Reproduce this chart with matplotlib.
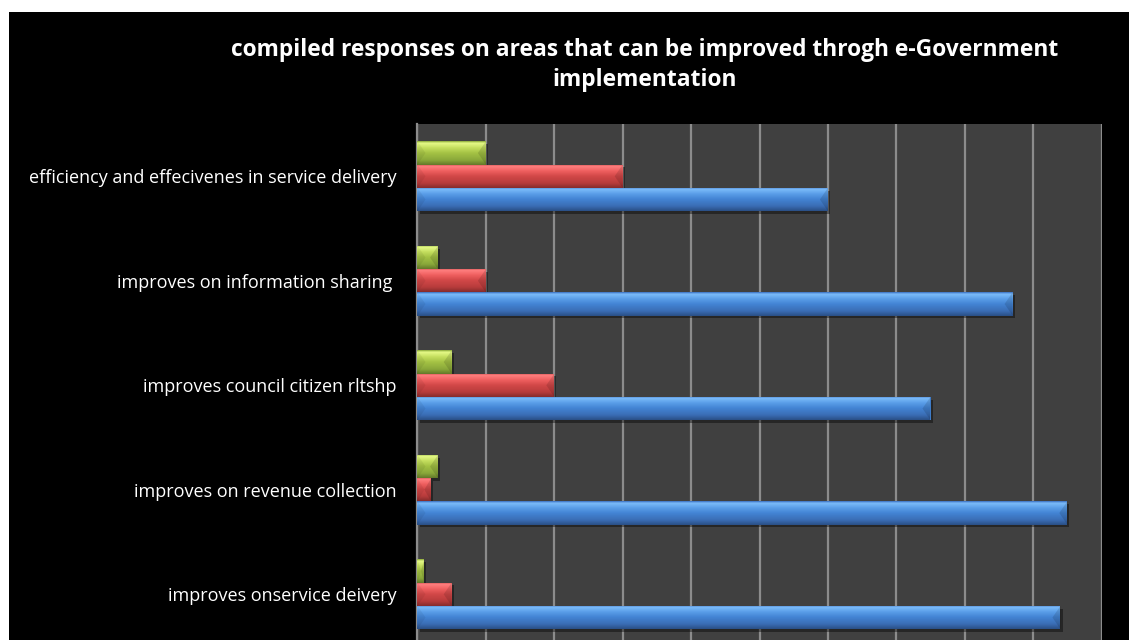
import numpy as np
import matplotlib
matplotlib.use("Agg")
import matplotlib.pyplot as plt
import matplotlib.patheffects as pe
from matplotlib.colors import LinearSegmentedColormap, to_rgb
from matplotlib.patches import Rectangle, Polygon

# ---- data (percent of responses) ----
categories = [
    "efficiency and effecivenes in service delivery",
    "improves on information sharing ",
    "improves council citizen rltshp",
    "improves on revenue collection",
    "improves onservice deivery",
]
series_blue = [60, 87, 75, 95, 94]
series_red = [30, 10, 20, 2, 5]
series_green = [10, 3, 5, 3, 1]
title_text = "compiled responses on areas that can be improved throgh e-Government\nimplementation"

W, H = 1129, 640
fig = plt.figure(figsize=(W / 100, H / 100), dpi=100, facecolor="white")
# black chart area (white margin top/left)
fig.patches.append(Rectangle((9 / W, 0), 1 - 9 / W, 1 - 12 / H, transform=fig.transFigure,
                             facecolor="black", edgecolor="none", zorder=-5))

left, right, top, bottom = 417.5, 1101.5, 124, 646.5
ax = fig.add_axes([left / W, 1 - bottom / H, (right - left) / W, (bottom - top) / H])
ax.set_zorder(2)
ax.set_facecolor("#404040")

fam = ["Open Sans", "DejaVu Sans"]
y = np.arange(len(categories))
h = 0.2225
px_x = 100 / (right - left)  # data units per pixel along x

palette = {
    "blue": ["#3a70c0", "#7cbcfa", "#5a9ee8", "#4384d4", "#3a6db4", "#2a4f86"],
    "red": ["#c04040", "#ff8080", "#f06060", "#d24848", "#b83c3c", "#862c2c"],
    "green": ["#8aa838", "#e6fa88", "#c4de5e", "#a4c244", "#8aa83a", "#64782a"],
}

def draw(vals, offset, key):
    bars = ax.barh(y + offset, vals, height=h, color=palette[key][3], edgecolor="none", zorder=3,
                   path_effects=[pe.SimplePatchShadow(offset=(1.5, -2.0), shadow_rgbFace="black", alpha=0.4),
                                 pe.Normal()])
    cols = [to_rgb(c) for c in palette[key]]
    cmap = LinearSegmentedColormap.from_list(key, list(zip([0, 0.08, 0.28, 0.5, 0.8, 1.0], cols)))
    grad = np.linspace(0, 1, 64).reshape(-1, 1)
    for p in bars:
        x0, y0, w, hh = p.get_x(), p.get_y(), p.get_width(), p.get_height()
        im = ax.imshow(grad, cmap=cmap, extent=[x0, x0 + w, y0 + hh, y0], origin="upper",
                       aspect="auto", zorder=4, interpolation="bilinear")
        im.set_clip_path(p)
        d = min(8 * px_x, w / 2)
        x1 = x0 + w
        # bevelled end facets
        ax.add_patch(Polygon([(x1, y0), (x1 - d, y0 + hh / 2), (x1, y0 + hh)], closed=True,
                             facecolor="black", alpha=0.12, edgecolor="none", zorder=5))
        ax.add_patch(Polygon([(x0, y0), (x0 + d, y0 + hh / 2), (x0, y0 + hh)], closed=True,
                             facecolor="black", alpha=0.06, edgecolor="none", zorder=5))
    return bars

draw(series_green, -h, "green")
draw(series_red, 0, "red")
draw(series_blue, h, "blue")

ax.set_xlim(0, 100)
ax.set_ylim(4.5, -0.5)
ax.set_xticks(np.arange(0, 101, 10))
ax.xaxis.grid(True, color="#8c8c8c", linewidth=1.6, zorder=1)
ax.set_axisbelow(True)
ax.tick_params(axis="x", length=0, labelbottom=False)
ax.set_yticks(y)
ax.set_yticklabels(categories, color="white", fontsize=13, family=fam)
ax.tick_params(axis="y", length=0, pad=14.8)
for s in ["top", "bottom", "right"]:
    ax.spines[s].set_visible(False)
ax.spines["left"].set_color("#8c8c8c")
ax.spines["left"].set_linewidth(1.6)

fig.text(645 / W, 1 - 37.5 / H, title_text, ha="center", va="top", color="white",
         fontsize=16.4, fontweight="bold", family=fam, linespacing=1.38, zorder=5)

fig.savefig("out.png", dpi=100, facecolor="white")
